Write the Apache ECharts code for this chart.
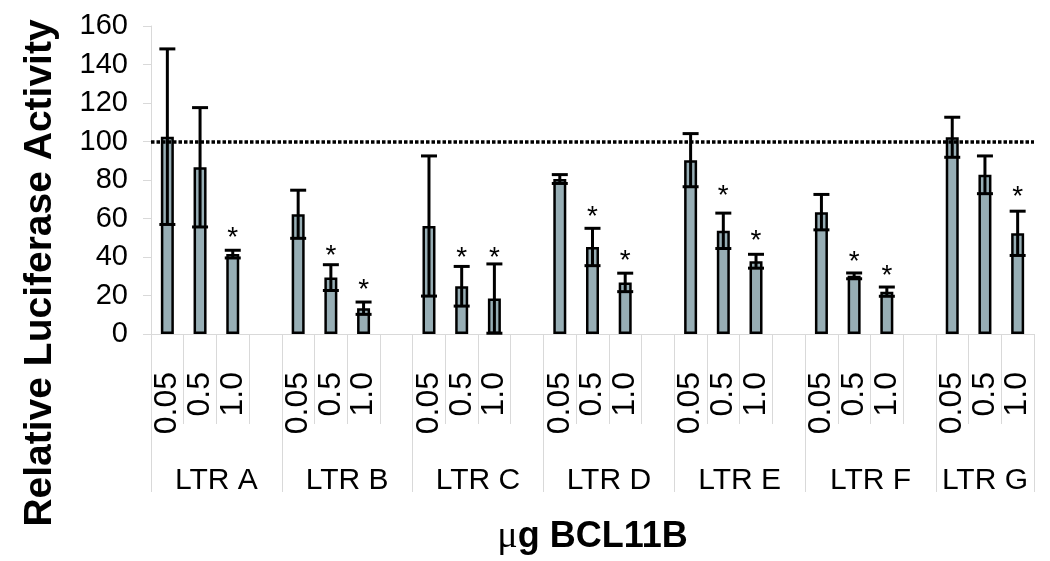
<!DOCTYPE html>
<html>
<head>
<meta charset="utf-8">
<script src="https://cdn.jsdelivr.net/npm/echarts@6/dist/echarts.min.js"></script>
<style>
  html, body { margin: 0; padding: 0; background: #fff; }
  #main { width: 1050px; height: 561px; }
</style>
</head>
<body>
<div id="main"></div>
<script>
// doses and promoter groups
var doses = ['0.05', '0.5', '1.0']
var groups = ['LTR A', 'LTR B', 'LTR C', 'LTR D', 'LTR E', 'LTR F', 'LTR G']

// mean relative activity, three doses per group
var means = [102.5, 86.6, 41.5, 62.2, 29.3, 13.4, 56.1, 24.8, 18.4, 80.5, 45.2, 26.8,
  90.3, 53.6, 37.8, 63.3, 30.2, 22, 102.2, 82.7, 52.3]
// error bar half-heights
var errs = [45.6, 31, 2, 12.5, 6.7, 3.2, 36.4, 10.3, 18, 2.3, 9.7, 4.8,
  13.8, 9.2, 3.6, 9.2, 1.5, 2.4, 10.4, 9.8, 11.5]
// where the significance asterisks sit (null = none)
var stars = [null, null, 53, null, 43.5, 25.8, null, 42.7, 42.7, null, 63.7, 41,
  null, 74.5, 51.4, null, 40.5, 33.3, null, null, 74]
var yTicks = { min: 0, max: 160, interval: 20 }
var refLine = 100

// slots: 3 bars per group, with an empty slot between groups
var slotLabels = []
var barData = []
var errData = []
var starData = []
groups.forEach(function (g, gi) {
  doses.forEach(function (d, di) {
    var i = gi * 3 + di
    var slot = slotLabels.length
    slotLabels.push(d)
    barData.push(means[i])
    errData.push([slot, means[i] - errs[i], means[i] + errs[i]])
    if (stars[i] != null) starData.push([slot, stars[i]])
  })
  if (gi < groups.length - 1) {
    slotLabels.push('')
    barData.push('-')
  }
})

// second axis in half-slot steps for the group labels and long separators
var halfLabels = []
var tickIdx = {}
for (var h = 0; h <= slotLabels.length * 2; h++) halfLabels.push('')
var start = 0
groups.forEach(function (g, gi) {
  var size = gi < groups.length - 1 ? 4 : 3
  tickIdx[start * 2] = true
  halfLabels[start * 2 + size] = g
  start += size
})
tickIdx[start * 2] = true

var font = "'Liberation Sans', Arial, sans-serif"
var gray = '#d9d9d9'

var myChart = echarts.init(document.getElementById('main'))
var option = {
  animation: false,
  grid: { left: 151, right: 16, top: 26, bottom: 217, containLabel: false },
  graphic: [{
    type: 'text',
    x: 40,
    y: 273,
    rotation: Math.PI / 2,
    style: {
      text: 'Relative Luciferase Activity',
      font: "bold 39px 'Liberation Sans', Arial, sans-serif",
      fill: '#000',
      align: 'center',
      verticalAlign: 'middle'
    }
  }],
  xAxis: [{
    type: 'category',
    position: 'bottom',
    data: slotLabels,
    axisLine: { lineStyle: { color: gray, width: 1 } },
    axisTick: { show: true, interval: 0, length: 90, lineStyle: { color: gray } },
    axisLabel: {
      interval: 0,
      rotate: 90,
      margin: 38,
      fontSize: 32,
      fontFamily: font,
      color: '#000'
    }
  }, {
    type: 'category',
    position: 'bottom',
    boundaryGap: false,
    data: halfLabels,
    axisLine: { show: false },
    axisTick: {
      show: true,
      length: 158,
      interval: function (i) { return !!tickIdx[i] },
      lineStyle: { color: gray }
    },
    axisLabel: {
      interval: function (i, v) { return v !== '' },
      margin: 132,
      fontSize: 30,
      fontFamily: font,
      color: '#000'
    },
    name: '{mu|\u03bc}g BCL11B',
    nameLocation: 'middle',
    nameGap: 184,
    nameTextStyle: {
      fontSize: 36,
      fontWeight: 'bold',
      fontFamily: font,
      color: '#000',
      rich: {
        mu: { fontSize: 38, fontWeight: 'normal', fontFamily: "'Liberation Serif', serif", color: '#000' }
      }
    }
  }],
  yAxis: {
    type: 'value',
    min: yTicks.min,
    max: yTicks.max,
    interval: yTicks.interval,
    axisLine: { show: true, lineStyle: { color: gray } },
    axisTick: { show: true, length: 8, lineStyle: { color: gray } },
    splitLine: { show: false },
    axisLabel: { margin: 23, fontSize: 29, fontFamily: font, color: '#000' }
  },
  series: [{
    type: 'bar',
    xAxisIndex: 0,
    data: barData,
    barWidth: 13,
    itemStyle: { color: '#97aeb5', borderColor: '#000', borderWidth: 2.5 },
    markLine: {
      silent: true,
      symbol: 'none',
      label: { show: false },
      lineStyle: { color: '#000', type: [3.5, 2], width: 3.5 },
      data: [{ yAxis: refLine }]
    }
  }, {
    type: 'custom',
    xAxisIndex: 0,
    z: 3,
    data: errData,
    renderItem: function (params, api) {
      var lo = api.coord([api.value(0), api.value(1)])
      var hi = api.coord([api.value(0), api.value(2)])
      var x = hi[0]
      var w = 8
      var style = { stroke: '#000', lineWidth: 3 }
      return {
        type: 'group',
        children: [
          { type: 'line', shape: { x1: x, y1: hi[1], x2: x, y2: lo[1] }, style: style },
          { type: 'line', shape: { x1: x - w, y1: hi[1], x2: x + w, y2: hi[1] }, style: style },
          { type: 'line', shape: { x1: x - w, y1: lo[1], x2: x + w, y2: lo[1] }, style: style }
        ]
      }
    }
  }, {
    type: 'custom',
    xAxisIndex: 0,
    z: 4,
    data: starData,
    renderItem: function (params, api) {
      var p = api.coord([api.value(0), api.value(1)])
      return {
        type: 'text',
        x: p[0],
        y: p[1] + 6,
        style: {
          text: '*',
          font: "28px 'Liberation Sans', Arial, sans-serif",
          fill: '#000',
          align: 'center',
          verticalAlign: 'middle'
        }
      }
    }
  }]
}
myChart.setOption(option)
</script>
</body>
</html>
